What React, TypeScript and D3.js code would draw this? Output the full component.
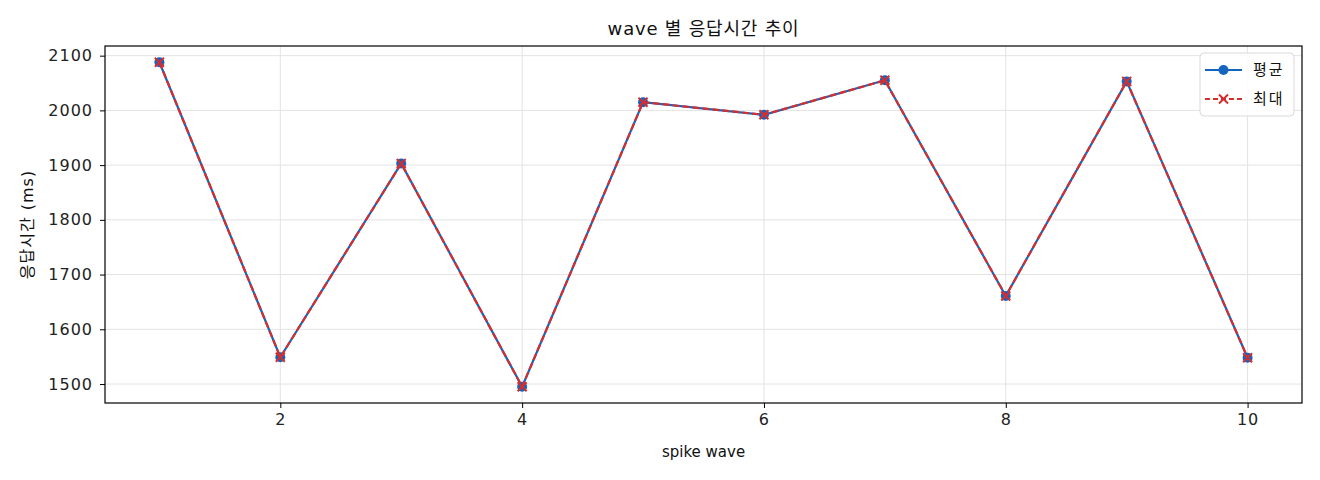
import { useRef, useEffect } from 'react';
import * as d3 from 'd3';

const waves = [1, 2, 3, 4, 5, 6, 7, 8, 9, 10];
const avgMs = [2088, 1549, 1903, 1495, 2015, 1992, 2055, 1661, 2053, 1548];
const maxMs = [2088, 1549, 1903, 1495, 2015, 1992, 2055, 1661, 2053, 1548];
const xTicks = [2, 4, 6, 8, 10];
const yTicks = [1500, 1600, 1700, 1800, 1900, 2000, 2100];

const FONT = '"DejaVu Sans", "Noto Sans CJK KR", sans-serif';
const BLUE = '#1565c0';
const RED = '#d32f2f';

export default function App() {
  const svgRef = useRef<SVGSVGElement>(null);

  useEffect(() => {
    if (!svgRef.current) return;
    const svg = d3.select(svgRef.current);
    svg.selectAll('*').remove();

    const width = 1320;
    const height = 480;
    const margin = { top: 46, right: 18, bottom: 77, left: 105 };
    const innerWidth = width - margin.left - margin.right;
    const innerHeight = height - margin.top - margin.bottom;

    svg.attr('width', width).attr('height', height);
    svg.append('rect').attr('width', width).attr('height', height).attr('fill', '#fff');

    const g = svg.append('g').attr('transform', `translate(${margin.left},${margin.top})`);

    // matplotlib-like 5% margins
    const all = [...avgMs, ...maxMs];
    const lo = d3.min(all)!;
    const hi = d3.max(all)!;
    const pad = (hi - lo) * 0.05;
    const x = d3.scaleLinear().domain([0.55, 10.45]).range([0, innerWidth]);
    const y = d3.scaleLinear().domain([lo - pad, hi + pad]).range([innerHeight, 0]);

    // grid
    g.append('g')
      .selectAll('line')
      .data(xTicks)
      .join('line')
      .attr('x1', (d) => x(d))
      .attr('x2', (d) => x(d))
      .attr('y1', 0)
      .attr('y2', innerHeight)
      .attr('stroke', '#e3e3e3')
      .attr('stroke-width', 1);
    g.append('g')
      .selectAll('line')
      .data(yTicks)
      .join('line')
      .attr('x1', 0)
      .attr('x2', innerWidth)
      .attr('y1', (d) => y(d))
      .attr('y2', (d) => y(d))
      .attr('stroke', '#e3e3e3')
      .attr('stroke-width', 1);

    // axes
    const xAxis = g
      .append('g')
      .attr('transform', `translate(0,${innerHeight})`)
      .call(d3.axisBottom(x).tickValues(xTicks).tickSize(5).tickPadding(6).tickFormat(d3.format('d')));
    const yAxis = g
      .append('g')
      .call(d3.axisLeft(y).tickValues(yTicks).tickSize(5).tickPadding(7).tickFormat(d3.format('d')));
    [xAxis, yAxis].forEach((a) => {
      a.select('.domain').remove();
      a.selectAll('line').attr('stroke', '#000').attr('stroke-width', 1);
      a.selectAll('text')
        .attr('fill', '#222')
        .style('font-family', FONT)
        .style('font-size', '16px')
        .style('letter-spacing', '1px');
    });

    // frame
    g.append('rect')
      .attr('width', innerWidth)
      .attr('height', innerHeight)
      .attr('fill', 'none')
      .attr('stroke', '#000')
      .attr('stroke-width', 1.2);

    const line = d3
      .line<number>()
      .x((_, i) => x(waves[i]))
      .y((d) => y(d));

    // 평균
    g.append('path')
      .datum(avgMs)
      .attr('fill', 'none')
      .attr('stroke', BLUE)
      .attr('stroke-width', 2.2)
      .attr('d', line);
    g.append('g')
      .selectAll('circle')
      .data(avgMs)
      .join('circle')
      .attr('cx', (_, i) => x(waves[i]))
      .attr('cy', (d) => y(d))
      .attr('r', 5)
      .attr('fill', BLUE);

    // 최대
    g.append('path')
      .datum(maxMs)
      .attr('fill', 'none')
      .attr('stroke', RED)
      .attr('stroke-width', 2.2)
      .attr('stroke-dasharray', '7,3')
      .attr('d', line);
    const cross = 4.5;
    g.append('g')
      .selectAll('path')
      .data(maxMs)
      .join('path')
      .attr('transform', (d, i) => `translate(${x(waves[i])},${y(d)})`)
      .attr('d', `M${-cross},${-cross}L${cross},${cross}M${-cross},${cross}L${cross},${-cross}`)
      .attr('stroke', RED)
      .attr('stroke-width', 2);

    // title and labels
    svg.append('text')
      .attr('x', margin.left + innerWidth / 2)
      .attr('y', 35)
      .attr('text-anchor', 'middle')
      .style('font-family', FONT)
      .style('font-size', '18px')
      .style('letter-spacing', '0.8px')
      .attr('fill', '#111')
      .text('wave 별 응답시간 추이');
    svg.append('text')
      .attr('x', margin.left + innerWidth / 2)
      .attr('y', 457)
      .attr('text-anchor', 'middle')
      .style('font-family', FONT)
      .style('font-size', '15px')
      .attr('fill', '#111')
      .text('spike wave');
    svg.append('text')
      .attr('transform', `translate(33,${margin.top + innerHeight / 2}) rotate(-90)`)
      .attr('text-anchor', 'middle')
      .style('font-family', FONT)
      .style('font-size', '16px')
      .style('letter-spacing', '1px')
      .attr('fill', '#111')
      .text('응답시간 (ms)');

    // legend
    const lg = svg.append('g').attr('transform', 'translate(1200,53)');
    lg.append('rect')
      .attr('width', 94)
      .attr('height', 63)
      .attr('rx', 4)
      .attr('fill', 'rgba(255,255,255,0.85)')
      .attr('stroke', '#d9d9d9');
    const items = [
      { label: '평균', color: BLUE, dash: null as string | null, marker: 'circle' },
      { label: '최대', color: RED, dash: '5,3', marker: 'x' },
    ];
    items.forEach((it, i) => {
      const cy = 17 + i * 29;
      const row = lg.append('g').attr('transform', `translate(0,${cy})`);
      row.append('line')
        .attr('x1', 5)
        .attr('x2', 42)
        .attr('stroke', it.color)
        .attr('stroke-width', 2.2)
        .attr('stroke-dasharray', it.dash);
      if (it.marker === 'circle') {
        row.append('circle').attr('cx', 23.5).attr('r', 5).attr('fill', it.color);
      } else {
        row.append('path')
          .attr('transform', 'translate(23.5,0)')
          .attr('d', `M${-cross},${-cross}L${cross},${cross}M${-cross},${cross}L${cross},${-cross}`)
          .attr('stroke', it.color)
          .attr('stroke-width', 2);
      }
      row.append('text')
        .attr('x', 53)
        .attr('dy', '0.35em')
        .style('font-family', FONT)
        .style('font-size', '15px')
        .style('letter-spacing', '2px')
        .attr('fill', '#111')
        .text(it.label);
    });
  }, []);

  return <svg ref={svgRef} style={{ position: 'absolute', left: 0, top: 0, display: 'block' }} />;
}
